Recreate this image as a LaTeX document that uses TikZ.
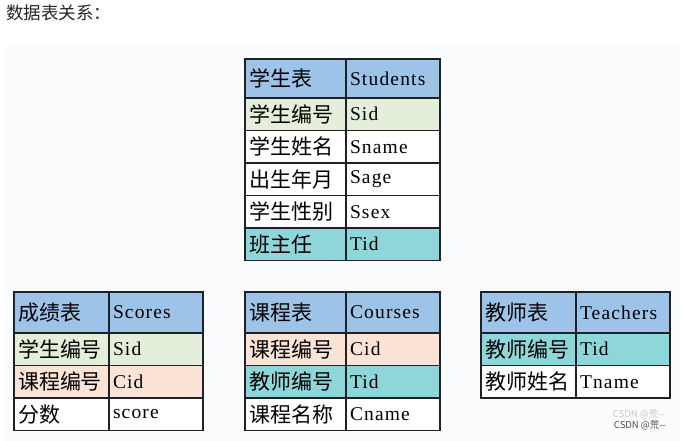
\documentclass[tikz,border=0pt]{standalone}
\usepackage{fontspec}
\newfontfamily\cjk{Noto Sans CJK SC}
\newfontfamily\latin{Liberation Serif}[LetterSpace=6]
\definecolor{tabline}{HTML}{1E2226}
\definecolor{hdr}{HTML}{9DC3E9}
\definecolor{keyS}{HTML}{E3EFDA}
\definecolor{keyC}{HTML}{FBE3D6}
\definecolor{keyT}{HTML}{8FD6DA}
\definecolor{panel}{HTML}{FBFCFD}
\tikzset{
  cell/.style={draw=tabline, line width=1.3pt, anchor=north west, outer sep=0pt,
    inner xsep=4pt, inner ysep=0pt, align=left, minimum height=32.5pt},
  zh/.style={cell, text width=#1, font=\cjk\fontsize{21pt}{21pt}\selectfont},
  en/.style={cell, text width=#1, font=\latin\fontsize{19.5pt}{19.5pt}\selectfont},
}
\begin{document}
\begin{tikzpicture}[x=1pt,y=-1pt]
  \useasboundingbox (0,0) rectangle (683,441);
  \fill[panel] (6,45) rectangle (680,441);
  \node[anchor=west, inner sep=0pt, font=\cjk\fontsize{17.5pt}{17.5pt}\selectfont,
    text=black!85] (title) at (6,13) {数据表关系：};

  \node[zh=93pt, fill=hdr, minimum height=39pt] (st-h) at (245,59) {学生表};
  \node[en=86pt, fill=hdr, minimum height=39pt] (st-he) at (st-h.north east) {Students};
  \node[zh=93pt, fill=keyS] (st-1) at (st-h.south west) {学生编号};
  \node[en=86pt, fill=keyS] (st-1e) at (st-1.north east) {Sid};
  \node[zh=93pt, fill=white] (st-2) at (st-1.south west) {学生姓名};
  \node[en=86pt, fill=white] (st-2e) at (st-2.north east) {Sname};
  \node[zh=93pt, fill=white] (st-3) at (st-2.south west) {出生年月};
  \node[en=86pt, fill=white] (st-3e) at (st-3.north east) {Sage};
  \node[zh=93pt, fill=white] (st-4) at (st-3.south west) {学生性别};
  \node[en=86pt, fill=white] (st-4e) at (st-4.north east) {Ssex};
  \node[zh=93pt, fill=keyT] (st-5) at (st-4.south west) {班主任};
  \node[en=86pt, fill=keyT] (st-5e) at (st-5.north east) {Tid};

  \node[zh=87pt, fill=hdr, minimum height=41pt] (sc-h) at (14,292) {成绩表};
  \node[en=86pt, fill=hdr, minimum height=41pt] (sc-he) at (sc-h.north east) {Scores};
  \node[zh=87pt, fill=keyS] (sc-1) at (sc-h.south west) {学生编号};
  \node[en=86pt, fill=keyS] (sc-1e) at (sc-1.north east) {Sid};
  \node[zh=87pt, fill=keyC] (sc-2) at (sc-1.south west) {课程编号};
  \node[en=86pt, fill=keyC] (sc-2e) at (sc-2.north east) {Cid};
  \node[zh=87pt, fill=white] (sc-3) at (sc-2.south west) {分数};
  \node[en=86pt, fill=white] (sc-3e) at (sc-3.north east) {score};

  \node[zh=93pt, fill=hdr, minimum height=41pt] (co-h) at (245,292) {课程表};
  \node[en=86pt, fill=hdr, minimum height=41pt] (co-he) at (co-h.north east) {Courses};
  \node[zh=93pt, fill=keyC] (co-1) at (co-h.south west) {课程编号};
  \node[en=86pt, fill=keyC] (co-1e) at (co-1.north east) {Cid};
  \node[zh=93pt, fill=keyT] (co-2) at (co-1.south west) {教师编号};
  \node[en=86pt, fill=keyT] (co-2e) at (co-2.north east) {Tid};
  \node[zh=93pt, fill=white] (co-3) at (co-2.south west) {课程名称};
  \node[en=86pt, fill=white] (co-3e) at (co-3.north east) {Cname};

  \node[zh=87pt, fill=hdr, minimum height=41pt] (te-h) at (481,292) {教师表};
  \node[en=86pt, fill=hdr, minimum height=41pt] (te-he) at (te-h.north east) {Teachers};
  \node[zh=87pt, fill=keyT] (te-1) at (te-h.south west) {教师编号};
  \node[en=86pt, fill=keyT] (te-1e) at (te-1.north east) {Tid};
  \node[zh=87pt, fill=white] (te-2) at (te-1.south west) {教师姓名};
  \node[en=86pt, fill=white] (te-2e) at (te-2.north east) {Tname};

  \node[font=\cjk\fontsize{9.5pt}{9.5pt}\selectfont, text=black!22, inner sep=0pt]
    (mark-b) at (639,414) {CSDN @荒--};
  \node[font=\cjk\fontsize{9.5pt}{9.5pt}\selectfont, text=black!70, inner sep=0pt]
    (mark) at (640,425) {CSDN @荒--};
\end{tikzpicture}
\end{document}
